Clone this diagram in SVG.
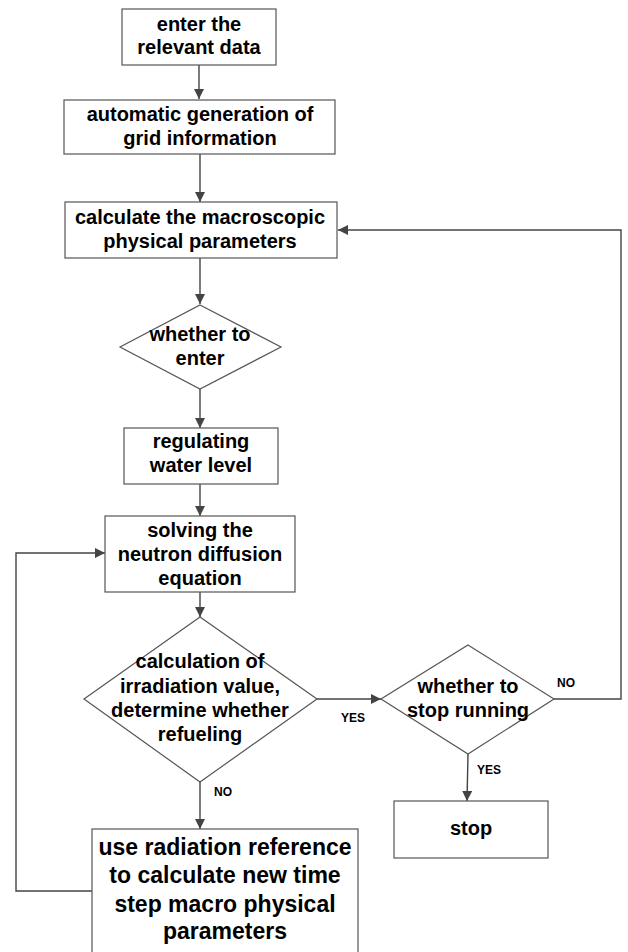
<svg xmlns="http://www.w3.org/2000/svg" width="628" height="952" viewBox="0 0 628 952">
  <defs>
    <marker id="arrow" viewBox="0 0 10 10" refX="10" refY="5" markerWidth="10" markerHeight="10" markerUnits="userSpaceOnUse" orient="auto">
      <path d="M0,0 L10,5 L0,10 Z" fill="#444"/>
    </marker>
  </defs>
  <style>
    .shape { fill: #fff; stroke: #555; stroke-width: 1.2; }
    .edge { fill: none; stroke: #444; stroke-width: 1.4; marker-end: url(#arrow); }
    .lbl { font-family: "Liberation Sans", Arial, sans-serif; font-weight: bold; font-size: 20px; fill: #000; text-anchor: middle; }
    .big { font-size: 23px; }
    .tag { font-family: "Liberation Sans", Arial, sans-serif; font-weight: bold; font-size: 12px; fill: #000; text-anchor: middle; }
  </style>
  <rect width="628" height="952" fill="#fff"/>

  <g id="connectors">
    <path class="edge" d="M199,65 V99"/>
    <path class="edge" d="M200,154 V202"/>
    <path class="edge" d="M200,258 V304"/>
    <path class="edge" d="M200,389 V428"/>
    <path class="edge" d="M200,484 V516"/>
    <path class="edge" d="M200,592 V617"/>
    <path class="edge" d="M317,699 H381"/>
    <path class="edge" d="M554,699 H621 V230 H338"/>
    <path class="edge" d="M468,754 L467,801"/>
    <path class="edge" d="M200,782 V829"/>
    <path class="edge" d="M92,891 H16 V553 H105"/>
    <text class="tag" x="353" y="722">YES</text>
    <text class="tag" x="566" y="687">NO</text>
    <text class="tag" x="489" y="774">YES</text>
    <text class="tag" x="223" y="796">NO</text>
  </g>

  <g id="enter-data">
    <rect class="shape" x="122" y="9" width="154" height="56"/>
    <text class="lbl" x="199" y="31">enter the</text>
    <text class="lbl" x="199" y="54">relevant data</text>
  </g>

  <g id="grid-generation">
    <rect class="shape" x="64" y="100" width="271" height="54"/>
    <text class="lbl" x="200" y="121">automatic generation of</text>
    <text class="lbl" x="200" y="145">grid information</text>
  </g>

  <g id="macro-params">
    <rect class="shape" x="65" y="202" width="272" height="56"/>
    <text class="lbl" x="200" y="224">calculate the macroscopic</text>
    <text class="lbl" x="200" y="248">physical parameters</text>
  </g>

  <g id="whether-enter">
    <polygon class="shape" points="200,305 281,347 200,389 120,347"/>
    <text class="lbl" x="200" y="341">whether to</text>
    <text class="lbl" x="200" y="365">enter</text>
  </g>

  <g id="water-level">
    <rect class="shape" x="124" y="428" width="154" height="56"/>
    <text class="lbl" x="201" y="448">regulating</text>
    <text class="lbl" x="201" y="472">water level</text>
  </g>

  <g id="diffusion">
    <rect class="shape" x="105" y="516" width="190" height="76"/>
    <text class="lbl" x="200" y="537">solving the</text>
    <text class="lbl" x="200" y="561">neutron diffusion</text>
    <text class="lbl" x="200" y="585">equation</text>
  </g>

  <g id="refueling-check">
    <polygon class="shape" points="200,617 317,699 200,782 84,699"/>
    <text class="lbl" x="200" y="668">calculation of</text>
    <text class="lbl" x="200" y="693">irradiation value,</text>
    <text class="lbl" x="200" y="717">determine whether</text>
    <text class="lbl" x="200" y="741">refueling</text>
  </g>

  <g id="stop-check">
    <polygon class="shape" points="468,645 554,699 468,754 381,699"/>
    <text class="lbl" x="468" y="693">whether to</text>
    <text class="lbl" x="468" y="717">stop running</text>
  </g>

  <g id="stop">
    <rect class="shape" x="394" y="801" width="154" height="57"/>
    <text class="lbl" x="471" y="835">stop</text>
  </g>

  <g id="new-time-step">
    <rect class="shape" x="92" y="829" width="266" height="130"/>
    <text class="lbl big" x="225" y="855">use radiation reference</text>
    <text class="lbl big" x="225" y="883">to calculate new time</text>
    <text class="lbl big" x="225" y="912">step macro physical</text>
    <text class="lbl big" x="225" y="939">parameters</text>
  </g>
</svg>
